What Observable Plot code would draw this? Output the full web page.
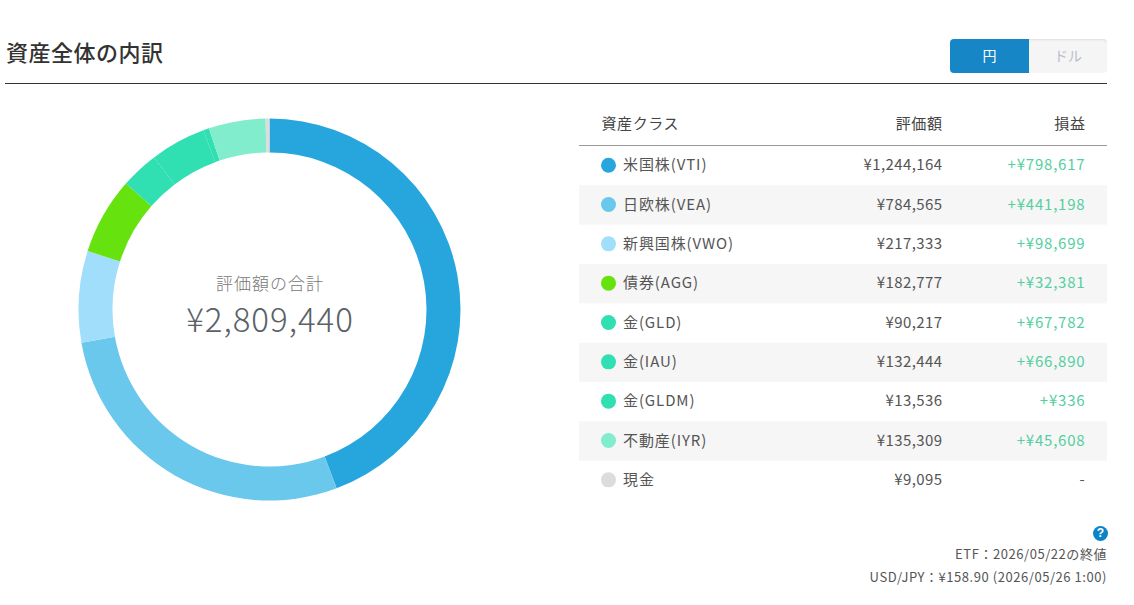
<!DOCTYPE html>
<html lang="ja">
<head>
<meta charset="utf-8">
<script src="https://cdn.jsdelivr.net/npm/d3@7"></script>
<script src="https://cdn.jsdelivr.net/npm/@observablehq/plot@0.6"></script>
<style>
html,body{margin:0;padding:0;background:#fff;width:1134px;height:605px;overflow:hidden;font-family:"Noto Sans CJK JP","Noto Sans",sans-serif;color:#333}
.abs{position:absolute}
#title{left:6px;top:34px;font-size:22px;font-weight:500;line-height:34px;letter-spacing:.5px;color:#333}
#hr{left:5px;top:83px;width:1102px;height:1px;background:#333}
#btnA,#btnB{top:39px;height:34px;line-height:32px;text-align:center;font-size:14px}
#btnA{left:950px;width:79px;background:#1786c7;color:#fff;border-radius:4px 0 0 4px}
#btnB{left:1029px;width:78px;background:#f5f5f5;color:#b9bec8;border-radius:0 4px 4px 0;box-shadow:inset 0 2px 2px -1px #ddd}
.note{right:27px;font-size:13px;line-height:20px;color:#555;white-space:nowrap;letter-spacing:.55px}
#help{left:1093px;top:526px;width:15px;height:15px;border-radius:50%;background:#0a84c6;color:#fff;font:bold 12px/15px "Liberation Sans",sans-serif;text-align:center}
</style>
</head>
<body>
<div id="title" class="abs">資産全体の内訳</div>
<div id="hr" class="abs"></div>
<div id="btnA" class="abs">円</div>
<div id="btnB" class="abs">ドル</div>
<div id="donut" class="abs" style="left:68.7px;top:108.5px"></div>
<div id="table" class="abs" style="left:579px;top:100px"></div>
<div id="help" class="abs">?</div>
<div class="abs note" style="top:544px">ETF：2026/05/22の終値</div>
<div class="abs note" style="top:567px">USD/JPY：¥158.90 (2026/05/26 1:00)</div>
<script>
const names = ["米国株(VTI)","日欧株(VEA)","新興国株(VWO)","債券(AGG)","金(GLD)","金(IAU)","金(GLDM)","不動産(IYR)","現金"];
const values = [1244164,784565,217333,182777,90217,132444,13536,135309,9095];
const gains = [798617,441198,98699,32381,67782,66890,336,45608,null];
const colors = ["#27a6de","#69c8ec","#a1defc","#66e30f","#30dfb2","#30dfb2","#30dfb2","#81edcd","#dcdcdc"];
const headers = ["資産クラス","評価額","損益"];
const centerLabel = "評価額の合計";

const rows = names.map((name,i)=>({name,value:values[i],gain:gains[i],row:i}));
const total = d3.sum(values);
const yen = v => "¥"+d3.format(",")(v);
const font = '"Noto Sans CJK JP"';
const color = {domain:names,range:colors};
const ink = "#555";
// letter spacing for a text mark
const spaced = px => (i,s,v,d,c,next) => { const g = next(i,s,v,d,c); g.style.letterSpacing = px+"px"; return g; };

// Donut: stacked bars on an angular x scale, rendered as arcs
const R = 191, r0 = 157;
const donut = Plot.plot({
  width:401,height:401,margin:9.5,
  x:{domain:[0,total],range:[0,2*Math.PI],axis:null},
  color,
  style:{background:"transparent",fontFamily:font},
  marks:[
    Plot.barX(rows,{x:"value",fill:"name",render(index,scales,vals,dim,ctx){
      const arc=d3.arc().innerRadius(r0).outerRadius(R);
      const g=d3.select(ctx.document.createElementNS("http://www.w3.org/2000/svg","g"))
        .attr("transform",`translate(${dim.width/2},${dim.height/2})`);
      g.selectAll("path").data(index).join("path")
        .attr("fill",i=>vals.fill[i])
        .attr("d",i=>arc({startAngle:vals.x1[i],endAngle:vals.x2[i]}));
      return g.node();
    }}),
    Plot.text([centerLabel],{text:d=>d,frameAnchor:"middle",dy:-25,fontSize:17,fontWeight:300,fill:"#777",render:spaced(1.0)}),
    Plot.text([total],{text:yen,frameAnchor:"middle",dy:11,fontSize:33,fontWeight:300,fill:"#5a6268",render:spaced(1.0)})
  ]
});
document.getElementById("donut").append(donut);

const colX = {dot:29,label:43.5,value:363,gain:506};
const rowY = d=>d.row+0.5;
const table = Plot.plot({
  width:528,height:401,margin:0,
  x:{domain:[0,528],range:[0,528],axis:null},
  y:{domain:[-1.17,9],range:[0,400],axis:null},
  color,
  style:{background:"transparent",fontFamily:font,fontSize:"15px"},
  marks:[
    Plot.rectX(rows.filter(d=>d.row%2==1),{x1:0,x2:528,y1:"row",y2:d=>d.row+1,fill:"#f6f6f6"}),
    Plot.ruleY([0],{stroke:"#999",dy:-1}),
    Plot.text([headers[0]],{x:22,y:-0.55,dy:-1,text:d=>d,textAnchor:"start",fontSize:15,fill:"#444",render:spaced(.6)}),
    Plot.text([headers[1]],{x:colX.value,y:-0.55,dy:-1,text:d=>d,textAnchor:"end",fontSize:15,fill:"#444",render:spaced(.6)}),
    Plot.text([headers[2]],{x:colX.gain,y:-0.55,dy:-1,text:d=>d,textAnchor:"end",fontSize:15,fill:"#444",render:spaced(.6)}),
    Plot.dot(rows,{x:()=>colX.dot,y:rowY,dy:-1,r:7.5,fill:"name"}),
    Plot.text(rows,{x:()=>colX.label,y:rowY,dy:-0.6,text:"name",textAnchor:"start",fontSize:15,fill:ink,render:spaced(.9)}),
    Plot.text(rows,{x:()=>colX.value,y:rowY,dy:-0.6,text:d=>yen(d.value),textAnchor:"end",fontSize:15,fill:ink,render:spaced(.4)}),
    Plot.text(rows,{x:()=>colX.gain,y:rowY,dy:-0.6,text:d=>d.gain==null?"-":"+"+yen(d.gain),textAnchor:"end",fontSize:15,fill:d=>d.gain==null?ink:"#54cfa0",render:spaced(.8)})
  ]
});
document.getElementById("table").append(table);
</script>
</body>
</html>
